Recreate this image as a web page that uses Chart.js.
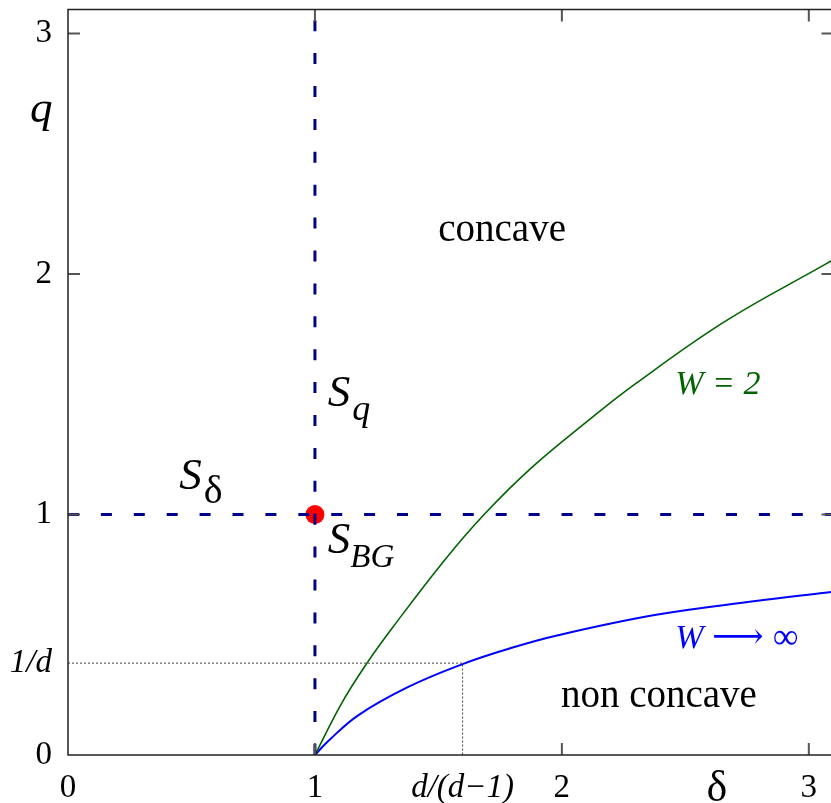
<!DOCTYPE html>
<html>
<head>
<meta charset="utf-8">
<script src="https://cdn.jsdelivr.net/npm/chart.js@4.4.1/dist/chart.umd.min.js"></script>
<style>
  html, body { margin: 0; padding: 0; background: #fff; overflow: hidden; }
  #wrap { width: 831px; height: 803px; overflow: hidden; }
</style>
</head>
<body>
<div id="wrap"><canvas id="phase" width="843" height="803"></canvas></div>
<script>
// values
const invD = 0.382;          // 1/d
const dOverD1 = 1.598;       // d/(d-1)
const xTicks = [0, 1, dOverD1, 2, 3];
const xTickLabels = ['0', '1', 'd/(d\u22121)', '2', '3'];
const yTicks = [0, invD, 1, 2, 3];
const yTickLabels = ['0', '1/d', '1', '2', '3'];

const w2Delta = [1.0, 1.108, 1.208, 1.316, 1.524, 1.685, 1.872, 2.10, 2.30, 2.664, 3.066, 3.1];
const w2Q     = [0.0, 0.215, 0.378, 0.532, 0.809, 1.0, 1.19, 1.385, 1.545, 1.805, 2.04, 2.06];
const wInfDelta = [1.0, 1.054, 1.175, 1.376, 1.598, 1.779, 1.98, 2.382, 2.785, 3.066, 3.1];
const wInfQ     = [0.0, 0.058, 0.165, 0.282, 0.378, 0.44, 0.497, 0.583, 0.64, 0.675, 0.679];

const xMax = 3.1, yMax = 3.1;

const pts = (xs, ys) => xs.map((x, i) => ({x: x, y: ys[i]}));
const serif = '"Liberation Serif", "DejaVu Serif", serif';

const frame = {
  id: 'frame',
  afterDatasetsDraw(chart) {
    const c = chart.ctx, a = chart.chartArea;
    const xs = chart.scales.x, ys = chart.scales.y;
    c.save();
    // inward ticks, mirrored
    c.strokeStyle = '#555';
    c.lineWidth = 2;
    c.beginPath();
    [1, 2, 3].forEach(v => {
      const px = xs.getPixelForValue(v);
      c.moveTo(px, a.bottom); c.lineTo(px, a.bottom - 12);
      c.moveTo(px, a.top); c.lineTo(px, a.top + 12);
      const py = ys.getPixelForValue(v);
      c.moveTo(a.left, py); c.lineTo(a.left + 12, py);
      c.moveTo(a.right, py); c.lineTo(a.right - 12, py);
    });
    c.stroke();
    // border box
    c.strokeStyle = '#222';
    c.lineWidth = 1.5;
    c.strokeRect(a.left, a.top, a.right - a.left, a.bottom - a.top);
    c.restore();
  }
};

function label(c, text, x, y, font, color, align) {
  c.font = font;
  c.fillStyle = color;
  c.textAlign = align || 'left';
  c.textBaseline = 'alphabetic';
  c.fillText(text, x, y);
  return c.measureText(text).width;
}

const labels = {
  id: 'labels',
  afterDraw(chart) {
    const c = chart.ctx, a = chart.chartArea;
    const X = v => chart.scales.x.getPixelForValue(v);
    const Y = v => chart.scales.y.getPixelForValue(v);
    c.save();
    label(c, 'concave', X(1.758), Y(2.137), '39px ' + serif, '#000', 'center');
    label(c, 'non concave', X(2.393), Y(0.199), '39px ' + serif, '#000', 'center');

    let w = label(c, 'S', X(1.052), Y(1.452), 'italic 45px ' + serif, '#000');
    label(c, 'q', X(1.052) + w + 2, Y(1.452) + 14, 'italic 36px ' + serif, '#000');

    w = label(c, 'S', X(0.451), Y(1.108), 'italic 45px ' + serif, '#000');
    label(c, '\u03b4', X(0.451) + w + 2, Y(1.108) + 14, '40px ' + serif, '#000');

    w = label(c, 'S', X(1.052), Y(0.838), 'italic 45px ' + serif, '#000');
    label(c, 'BG', X(1.052) + w, Y(0.838) + 14, 'italic 33px ' + serif, '#000');

    label(c, 'W = 2', X(2.459), Y(1.502), 'italic 34px ' + serif, '#006400');
    w = label(c, 'W ', X(2.459), Y(0.444), 'italic 34px ' + serif, '#0000ff');
    label(c, '\u27f6 \u221e', X(2.459) + w, Y(0.444), '36px ' + serif, '#0000ff');

    label(c, 'q', a.left - 38, Y(2.631), 'italic 45px ' + serif, '#000');
    label(c, '\u03b4', X(2.628), 801, '44px ' + serif, '#000', 'center');
    c.restore();
  }
};

new Chart(document.getElementById('phase').getContext('2d'), {
  type: 'scatter',
  data: {
    datasets: [
      {
        label: 'S_delta',
        data: [{x: 0, y: 1}, {x: xMax, y: 1}],
        showLine: true, borderColor: '#00008b', borderWidth: 3,
        borderDash: [11, 21.9], pointRadius: 0
      },
      {
        label: 'S_q',
        data: [{x: 1, y: 0}, {x: 1, y: yMax}],
        showLine: true, borderColor: '#00008b', borderWidth: 3,
        borderDash: [11, 21.9], pointRadius: 0
      },
      {
        label: '1/d',
        data: [{x: 0, y: invD}, {x: dOverD1, y: invD}, {x: dOverD1, y: 0}],
        showLine: true, borderColor: '#444', borderWidth: 1,
        borderDash: [2, 2], pointRadius: 0
      },
      {
        label: 'W = 2',
        data: pts(w2Delta, w2Q),
        showLine: true, borderColor: '#006400', borderWidth: 1.6,
        tension: 0.4, pointRadius: 0
      },
      {
        label: 'W -> inf',
        data: pts(wInfDelta, wInfQ),
        showLine: true, borderColor: '#0000ff', borderWidth: 2,
        tension: 0.4, pointRadius: 0
      },
      {
        label: 'S_BG',
        data: [{x: 1, y: 1}],
        pointRadius: 9.5, pointBackgroundColor: '#ff0000', pointBorderWidth: 0
      }
    ]
  },
  options: {
    responsive: false,
    animation: false,
    layout: { padding: { top: 8, right: 6, left: 0, bottom: 0 } },
    plugins: { legend: { display: false }, tooltip: { enabled: false } },
    scales: {
      x: {
        type: 'linear', min: 0, max: xMax,
        afterBuildTicks: s => { s.ticks = xTicks.map(v => ({value: v})); },
        afterFit: s => {
          s.height = 48;
          s.paddingLeft = s.paddingRight = s.paddingTop = s.paddingBottom = 0;
        },
        grid: { display: false, drawTicks: false },
        border: { display: false },
        ticks: {
          padding: 14,
          color: '#000',
          maxRotation: 0, autoSkip: false,
          font: ctx => ({ family: serif, size: 33, style: (ctx.tick && ctx.tick.value === dOverD1) ? 'italic' : 'normal' }),
          callback: (v, i) => xTickLabels[i]
        }
      },
      y: {
        type: 'linear', min: 0, max: yMax,
        afterBuildTicks: s => { s.ticks = yTicks.map(v => ({value: v})); },
        afterFit: s => {
          s.width = 68;
          s.paddingLeft = s.paddingRight = s.paddingTop = s.paddingBottom = 0;
        },
        grid: { display: false, drawTicks: false },
        border: { display: false },
        ticks: {
          padding: 16,
          color: '#000',
          autoSkip: false,
          font: ctx => ({ family: serif, size: 33, style: (ctx.tick && ctx.tick.value === invD) ? 'italic' : 'normal' }),
          callback: (v, i) => yTickLabels[i]
        }
      }
    }
  },
  plugins: [frame, labels]
});
</script>
</body>
</html>
